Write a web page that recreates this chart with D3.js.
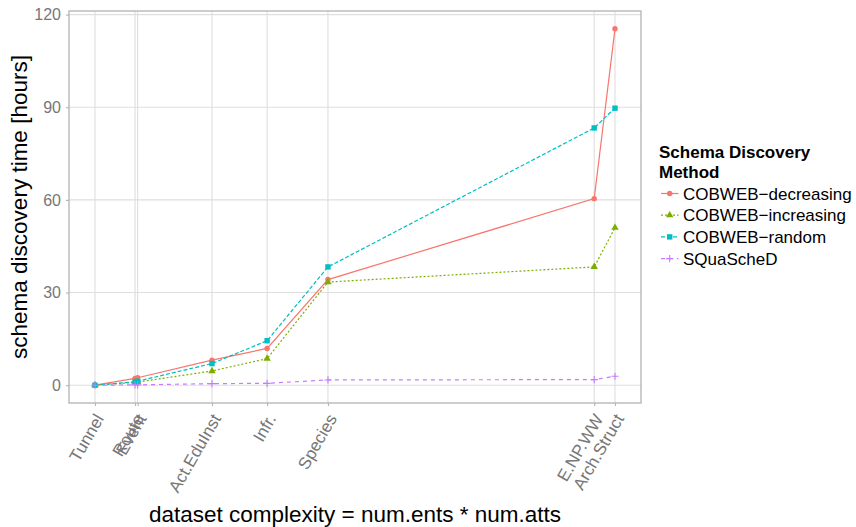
<!DOCTYPE html>
<html>
<head>
<meta charset="utf-8">
<script src="https://cdn.jsdelivr.net/npm/d3@7"></script>
<style>
  html, body { margin: 0; padding: 0; background: #fff; }
  svg { display: block; font-family: "Liberation Sans", Arial, Helvetica, sans-serif; }
</style>
</head>
<body>
<svg id="chart" width="856" height="527"></svg>
<script>
// Datasets, ordered by complexity (num.ents * num.atts, relative units)
const datasets   = ["Tunnel", "Route", "Event", "Act.EduInst", "Infr.", "Species", "E.NP.WW", "Arch.Struct"];
const complexity = [10, 87, 92, 235, 341, 458, 970, 1010];

// Schema discovery time in hours, one array per method
const cobwebDecreasing = [0, 2.2, 2.4, 8.1, 11.9, 34.2, 60.4, 115.4];
const cobwebIncreasing = [0, 0.9, 1.0, 4.6, 8.6, 33.4, 38.3, 51.0];
const cobwebRandom     = [0, 1.1, 1.3, 7.0, 14.4, 38.3, 83.3, 89.7];
const squasched       = [0, 0.1, 0.1, 0.5, 0.6, 1.7, 1.8, 2.9];

const methodNames = ["COBWEB\u2212decreasing", "COBWEB\u2212increasing", "COBWEB\u2212random", "SQuaScheD"];
const yTicks = [0, 30, 60, 90, 120];

const methods = [
  { name: methodNames[0], values: cobwebDecreasing, color: "#F8766D", dash: null,  shape: "circle" },
  { name: methodNames[1], values: cobwebIncreasing, color: "#7CAE00", dash: "2,2", shape: "triangle" },
  { name: methodNames[2], values: cobwebRandom,     color: "#00BFC4", dash: "4,2", shape: "square" },
  { name: methodNames[3], values: squasched,        color: "#C77CFF", dash: "4,4", shape: "plus" }
];

const svg = d3.select("#chart");
const panel = { left: 69, right: 641, top: 11, bottom: 403 };

// ggplot-style 5% expansion on both axes
function expanded(lo, hi) { const e = (hi - lo) * 0.05; return [lo - e, hi + e]; }
const allY = methods.flatMap(m => m.values);
const x = d3.scaleLinear().domain(expanded(d3.min(complexity), d3.max(complexity))).range([panel.left, panel.right]);
const y = d3.scaleLinear().domain(expanded(d3.min(allY), d3.max(allY))).range([panel.bottom, panel.top]);

const gridColor = "#DEDEDE", frameColor = "#B3B3B3", tickText = "#777777";

// grid
const grid = svg.append("g");
grid.selectAll("line.h").data(yTicks).join("line")
  .attr("x1", panel.left).attr("x2", panel.right)
  .attr("y1", d => y(d)).attr("y2", d => y(d))
  .attr("stroke", gridColor).attr("stroke-width", 1.1);
grid.selectAll("line.v").data(complexity).join("line")
  .attr("x1", d => x(d)).attr("x2", d => x(d))
  .attr("y1", panel.top).attr("y2", panel.bottom)
  .attr("stroke", gridColor).attr("stroke-width", 1.1);

// y axis
const yAxis = svg.append("g").attr("transform", `translate(${panel.left},0)`)
  .call(d3.axisLeft(y).tickValues(yTicks).tickSize(3).tickPadding(5));
yAxis.select(".domain").remove();
yAxis.selectAll(".tick line").attr("stroke", frameColor).attr("stroke-width", 1.1);
yAxis.selectAll(".tick text").attr("fill", tickText).attr("font-size", 16)
  .attr("font-family", "Liberation Sans, Arial, sans-serif");

// x axis with rotated dataset names at each dataset's complexity
const xAxis = svg.append("g").attr("transform", `translate(0,${panel.bottom})`)
  .call(d3.axisBottom(x).tickValues(complexity).tickSize(3).tickFormat((d, i) => datasets[i]));
xAxis.select(".domain").remove();
xAxis.selectAll(".tick line").attr("stroke", frameColor).attr("stroke-width", 1.1);
xAxis.selectAll(".tick text")
  .attr("fill", tickText).attr("font-size", 17)
  .attr("font-family", "Liberation Sans, Arial, sans-serif")
  .attr("text-anchor", "end")
  .attr("dy", null).attr("y", 0)
  .attr("transform", "translate(9,15.5) rotate(-60)");

// series lines
const line = d3.line().x((d, i) => x(complexity[i])).y(d => y(d));
const series = svg.append("g");
methods.forEach(m => {
  series.append("path").datum(m.values)
    .attr("d", line).attr("fill", "none")
    .attr("stroke", m.color).attr("stroke-width", 1.2)
    .attr("stroke-dasharray", m.dash);
});

function drawShape(g, shape, cx, cy, color) {
  if (shape === "circle") {
    g.append("circle").attr("cx", cx).attr("cy", cy).attr("r", 2.7).attr("fill", color);
  } else if (shape === "square") {
    g.append("rect").attr("x", cx - 2.7).attr("y", cy - 2.7).attr("width", 5.4).attr("height", 5.4).attr("fill", color);
  } else if (shape === "triangle") {
    const s = d3.symbol().type(d3.symbolTriangle).size(24);
    g.append("path").attr("d", s()).attr("transform", `translate(${cx},${cy})`).attr("fill", color);
  } else {
    g.append("path").attr("d", `M${cx - 3.6},${cy}H${cx + 3.6}M${cx},${cy - 3.6}V${cy + 3.6}`)
      .attr("stroke", color).attr("stroke-width", 1.1);
  }
}

const points = svg.append("g");
methods.forEach(m => {
  m.values.forEach((v, i) => drawShape(points, m.shape, x(complexity[i]), y(v), m.color));
});

// panel frame
svg.append("rect")
  .attr("x", panel.left).attr("y", panel.top)
  .attr("width", panel.right - panel.left).attr("height", panel.bottom - panel.top)
  .attr("fill", "none").attr("stroke", frameColor).attr("stroke-width", 1.3);

// axis titles
svg.append("text")
  .attr("x", (panel.left + panel.right) / 2).attr("y", 521.5)
  .attr("text-anchor", "middle").attr("font-size", 22.5).attr("fill", "#000")
  .text("dataset complexity = num.ents * num.atts");
svg.append("text")
  .attr("transform", `translate(27,${(panel.top + panel.bottom) / 2}) rotate(-90)`)
  .attr("text-anchor", "middle").attr("font-size", 22.5).attr("fill", "#000")
  .text("schema discovery time [hours]");

// legend
const legend = svg.append("g");
legend.append("text").attr("x", 659).attr("y", 158)
  .attr("font-size", 17).attr("font-weight", "bold").text("Schema Discovery");
legend.append("text").attr("x", 659).attr("y", 177.5)
  .attr("font-size", 17).attr("font-weight", "bold").text("Method");
methods.forEach((m, i) => {
  const cy = 193.5 + i * 21.7;
  legend.append("line").attr("x1", 661).attr("x2", 678.5).attr("y1", cy).attr("y2", cy)
    .attr("stroke", m.color).attr("stroke-width", 1.2).attr("stroke-dasharray", m.dash);
  drawShape(legend, m.shape, 669.7, cy, m.color);
  legend.append("text").attr("x", 683).attr("y", cy + 6.2)
    .attr("font-size", 17).attr("fill", "#000").text(m.name);
});
</script>
</body>
</html>
